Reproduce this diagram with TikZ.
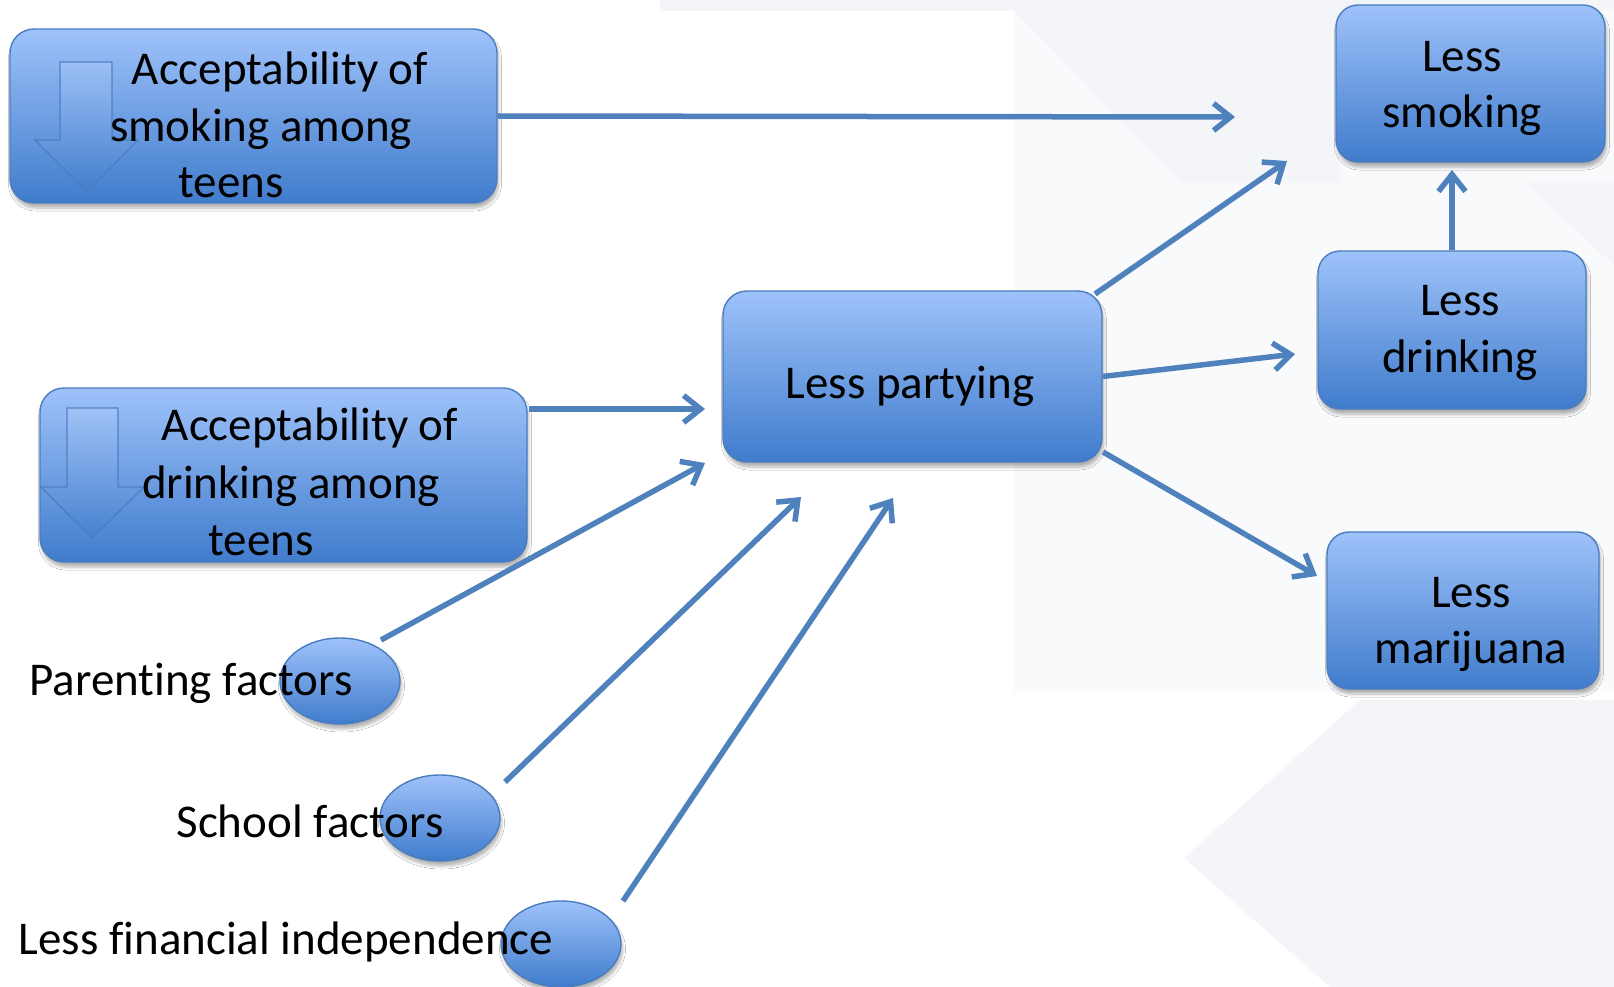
\documentclass[tikz,border=0pt]{standalone}
\usepackage{fontspec}
\setmainfont{Carlito}[Ligatures={NoCommon}]
\usetikzlibrary{arrows.meta,shadows,shadows.blur,shapes.geometric}

\definecolor{boxtop}{RGB}{158,194,250}
\definecolor{boxbot}{RGB}{64,124,204}
\definecolor{boxline}{RGB}{74,124,190}
\definecolor{linkblue}{RGB}{79,129,189}
\definecolor{bgfaint}{RGB}{249,250,252}
\definecolor{bglight}{RGB}{243,245,249}

\tikzset{
  boxshadow/.style={blur shadow={shadow xshift=1.5pt, shadow yshift=-5pt,
    shadow blur radius=3pt, shadow blur steps=6, shadow opacity=30}},
  panel/.style={rectangle, rounded corners=24pt, draw=boxline, line width=1.4pt,
    top color=boxtop, bottom color=boxbot, boxshadow, inner sep=0pt},
  bubble/.style={ellipse, draw=boxline, line width=1.4pt,
    top color=boxtop, bottom color=boxbot, boxshadow, inner sep=0pt,
    minimum width=120pt, minimum height=86pt},
  downarrowfill/.style={top color=boxtop!80!white, bottom color=boxbot, fill opacity=0.45},
  downarrowline/.style={draw=boxline, line width=1.2pt, draw opacity=0.9},
  label/.style={anchor=base, inner sep=0pt, font=\fontsize{47}{57}\selectfont},
  link/.style={draw=linkblue, line width=5.5pt,
    -{Straight Barb[length=17pt,width=27pt]}},
}

\begin{document}
\begin{tikzpicture}[x=1pt, y=-1pt]
  \useasboundingbox (0,0) rectangle (1614,987);
  \fill[white] (0,0) rectangle (1614,987);

  % faint background facets
  \fill[bglight] (660,0) rectangle (1614,11);
  \fill[bgfaint] (1014,11) -- (1614,11) -- (1614,692) -- (1014,692) -- cycle;
  \fill[bglight] (1014,11) -- (1340,11) -- (1340,183) -- (1182,183) -- cycle;
  \fill[bglight] (1525,183) -- (1614,183) -- (1614,265) -- cycle;
  \fill[bglight] (1184,858) -- (1360,700) -- (1614,700) -- (1614,987) -- (1330,987) -- cycle;

  % boxes
  \node[panel, minimum width=487pt, minimum height=174pt] (accsmoke) at (253.5,116) {};
  \node[panel, minimum width=487pt, minimum height=174pt] (accdrink) at (283.5,475) {};
  \node[panel, minimum width=379pt, minimum height=171pt] (party) at (912.5,376.5) {};
  \node[panel, rounded corners=22pt, minimum width=269pt, minimum height=157pt] (smoke) at (1470.5,83.5) {};
  \node[panel, rounded corners=22pt, minimum width=268pt, minimum height=158pt] (drink) at (1452,330) {};
  \node[panel, rounded corners=22pt, minimum width=272pt, minimum height=157pt] (marij) at (1463,610.5) {};

  % down arrows inside the two acceptability boxes
  \path[downarrowfill] (60,62) -- (112,62) -- (112,140) -- (138,140) -- (87,192)
    -- (35,140) -- (60,140) -- cycle;
  \path[downarrowline] (60,62) -- (112,62) -- (112,140) -- (138,140) -- (87,192)
    -- (35,140) -- (60,140) -- cycle;
  \path[downarrowfill] (67,408) -- (118,408) -- (118,487) -- (144,487) -- (92,538)
    -- (41,487) -- (67,487) -- cycle;
  \path[downarrowline] (67,408) -- (118,408) -- (118,487) -- (144,487) -- (92,538)
    -- (41,487) -- (67,487) -- cycle;

  % box texts
  \node[label] (t1a) at (280,85) {Acceptability of};
  \node[label] (t1b) at (261,142) {smoking among};
  \node[label] (t1c) at (231,198) {teens};
  \node[label] (t2a) at (310,440) {Acceptability of};
  \node[label] (t2b) at (291,498) {drinking among};
  \node[label] (t2c) at (261,555) {teens};
  \node[label] (tp) at (910,398) {Less partying};
  \node[label] (ts1) at (1462,72) {Less};
  \node[label] (ts2) at (1462,128) {smoking};
  \node[label] (td1) at (1460,315) {Less};
  \node[label] (td2) at (1460,372) {drinking};
  \node[label] (tm1) at (1471,607) {Less};
  \node[label] (tm2) at (1471,663) {marijuana};

  % factor bubbles and their labels
  \node[bubble] (parent) at (340,681) {};
  \node[bubble] (school) at (440,818) {};
  \node[bubble] (money) at (561,944) {};
  \node[label] (tpar) at (191,695) {Parenting factors};
  \node[label] (tsch) at (310,837) {School factors};
  \node[label] (tmon) at (286,954) {Less financial independence};

  % connector end points
  \coordinate (e1) at (1235,117);
  \coordinate (s2) at (1095,294);
  \coordinate (e2) at (1287,161);
  \coordinate (e3) at (1295,354);
  \coordinate (s4) at (1103,452);
  \coordinate (e4) at (1317,576);
  \coordinate (e5) at (1452,170);
  \coordinate (s6) at (529,409);
  \coordinate (e6) at (705,409);
  \coordinate (s7) at (381,640);
  \coordinate (e7) at (705,463);
  \coordinate (s8) at (505,782);
  \coordinate (e8) at (801,497);
  \coordinate (s9) at (623,901);
  \coordinate (e9) at (893,498);

  % connectors
  \draw[link] (accsmoke.east) -- (e1);
  \draw[link] (s2) -- (e2);
  \draw[link] (party.east) -- (e3);
  \draw[link] (s4) -- (e4);
  \draw[link] (drink.north) -- (e5);
  \draw[link] (s6) -- (e6);
  \draw[link] (s7) -- (e7);
  \draw[link] (s8) -- (e8);
  \draw[link] (s9) -- (e9);
\end{tikzpicture}
\end{document}
